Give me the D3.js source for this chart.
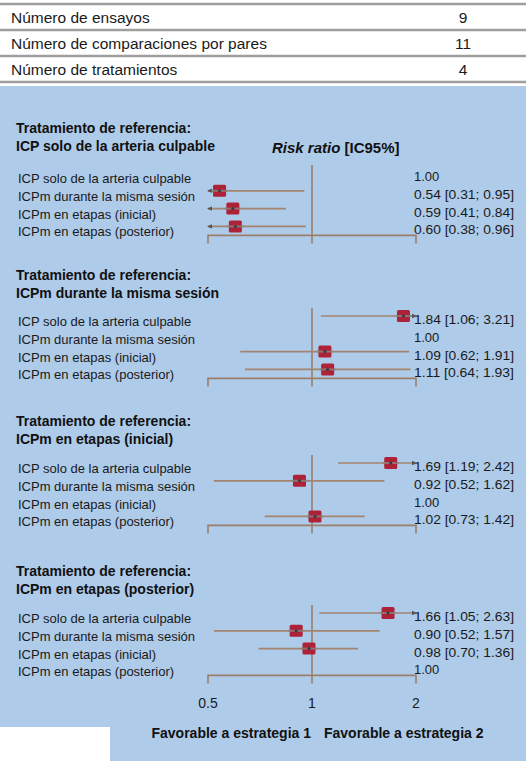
<!DOCTYPE html>
<html>
<head>
<meta charset="utf-8">
<script src="https://cdn.jsdelivr.net/npm/d3@7"></script>
<style>
  body { margin: 0; background: #fff; }
  svg { display: block; font-family: "Liberation Sans", Arial, Helvetica, sans-serif; }
</style>
</head>
<body>
<svg id="chart" width="526" height="761"></svg>
<script>
// summary table
var tableLabels = ["Número de ensayos", "Número de comparaciones por pares", "Número de tratamientos"];
var tableValues = ["9", "11", "4"];

// treatments (rows) and reference treatment per panel
var treatments = ["ICP solo de la arteria culpable", "ICPm durante la misma sesión", "ICPm en etapas (inicial)", "ICPm en etapas (posterior)"];
var references = treatments;

// risk ratio and 95% CI, one row per panel (null = reference itself)
var rr = [
    [1.00, 0.54, 0.59, 0.60],
    [1.84, 1.00, 1.09, 1.11],
    [1.69, 0.92, 1.00, 1.02],
    [1.66, 0.90, 0.98, 1.00]
];
var lower = [
    [null, 0.31, 0.41, 0.38],
    [1.06, null, 0.62, 0.64],
    [1.19, 0.52, null, 0.73],
    [1.05, 0.52, 0.70, null]
];
var upper = [
    [null, 0.95, 0.84, 0.96],
    [3.21, null, 1.91, 1.93],
    [2.42, 1.62, null, 1.42],
    [2.63, 1.57, 1.36, null]
];

var tickValues = [0.5, 1, 2];
var tickLabels = ["0.5", "1", "2"];
var favourLabels = ["Favorable a estrategia 1", "Favorable a estrategia 2"];

var W = 526, H = 761;
var svg = d3.select("#chart");

var x = d3.scaleLog().domain([0.5, 2]).range([208, 416]);
var fmt = d3.format(".2f");

var lineCol = "#9a7e6a";
var ciCol = "#a3846e";
var boxCol = "#ad2236";

// ---- table ----
var tableLines = [4, 30, 56, 82];
svg.selectAll(".tline")
    .data(tableLines)
    .enter().append("line")
    .attr("x1", 0).attr("x2", W)
    .attr("y1", d => d).attr("y2", d => d)
    .attr("stroke", "#9e9e9e")
    .attr("stroke-width", 2.5);

var trow = svg.selectAll(".trow")
    .data(tableLabels)
    .enter().append("g")
    .attr("transform", (d, i) => `translate(0,${23 + i * 26})`);
trow.append("text")
    .attr("x", 11)
    .attr("font-size", 15.5)
    .attr("fill", "#1a1a1a")
    .text(d => d);
trow.append("text")
    .attr("x", 463)
    .attr("text-anchor", "middle")
    .attr("font-size", 15.5)
    .attr("fill", "#1a1a1a")
    .text((d, i) => tableValues[i]);

// ---- blue panel ----
svg.append("rect")
    .attr("x", 0).attr("y", 86)
    .attr("width", W).attr("height", H - 86)
    .attr("fill", "#aecbe9");
svg.append("rect")
    .attr("x", 0).attr("y", 727)
    .attr("width", 110).attr("height", H - 727)
    .attr("fill", "#fff");

svg.append("text")
    .attr("x", 272).attr("y", 153)
    .attr("font-size", 15)
    .attr("font-weight", "bold")
    .attr("fill", "#111")
    .call(t => {
        t.append("tspan").attr("font-style", "italic").text("Risk ratio");
        t.append("tspan").text(" [IC95%]");
    });

var panelY = [173, 316, 463, 613];
var titleY = [133, 280, 426, 576];
var rowStep = 17.8;

references.forEach(function (ref, p) {
    var g = svg.append("g").attr("class", "panel");
    var y0 = panelY[p];
    var yRow = i => y0 + i * rowStep;
    var yBracket = y0 + 3 * rowStep + 9;

    g.selectAll(".title")
        .data(["Tratamiento de referencia:", ref + ""])
        .enter().append("text")
        .attr("x", 16)
        .attr("y", (d, i) => titleY[p] + i * 18)
        .attr("font-size", 14)
        .attr("font-weight", "bold")
        .attr("fill", "#111")
        .text(d => d);

    // null line and bracket
    g.append("line")
        .attr("x1", x(1)).attr("x2", x(1))
        .attr("y1", y0 - 8).attr("y2", yBracket + 8)
        .attr("stroke", lineCol).attr("stroke-width", 1.6);
    g.append("path")
        .attr("d", `M${x(0.5)},${yBracket + 8}V${yBracket}H${x(2)}V${yBracket + 8}`)
        .attr("fill", "none")
        .attr("stroke", lineCol).attr("stroke-width", 1.6);

    var rows = treatments.map((t, i) => ({ name: t, rr: rr[p][i], lo: lower[p][i], hi: upper[p][i], i: i }));

    g.selectAll(".lab")
        .data(rows)
        .enter().append("text")
        .attr("x", 18)
        .attr("y", d => yRow(d.i) + 10)
        .attr("font-size", 13)
        .attr("fill", "#1a1a1a")
        .text(d => d.name);

    g.selectAll(".val")
        .data(rows)
        .enter().append("text")
        .attr("x", 414)
        .attr("y", d => yRow(d.i) + 8)
        .attr("font-size", 13)
        .attr("fill", "#1a1a1a")
        .text(d => d.lo == null ? fmt(d.rr) : `${fmt(d.rr)} [${fmt(d.lo)}; ${fmt(d.hi)}]`)
        .each(function (d) {
            // the source face is a little narrower than ours
            if (d.lo != null) d3.select(this).attr("textLength", 100).attr("lengthAdjust", "spacingAndGlyphs");
        });

    var est = rows.filter(d => d.lo != null);
    var clamp = v => Math.max(0.5, Math.min(2, v));

    var m = g.selectAll(".mark")
        .data(est)
        .enter().append("g")
        .attr("transform", d => `translate(0,${yRow(d.i)})`);

    m.append("line")
        .attr("x1", d => x(clamp(d.lo))).attr("x2", d => x(clamp(d.hi)))
        .attr("stroke", ciCol).attr("stroke-width", 1.7);

    // arrowheads where the interval runs off the axis
    m.filter(d => d.lo < 0.5).append("path")
        .attr("d", `M${x(0.5) - 1},0l5,-2.2v4.4z`)
        .attr("fill", "#555");
    m.filter(d => d.hi > 2).append("path")
        .attr("d", `M${x(2) + 1},0l-5,-2.2v4.4z`)
        .attr("fill", "#555");

    m.append("rect")
        .attr("x", d => x(d.rr) - 6.5).attr("y", -6)
        .attr("width", 13).attr("height", 12)
        .attr("rx", 1.5)
        .attr("fill", boxCol);
    m.append("line")
        .attr("x1", d => x(d.rr) - 8).attr("x2", d => x(d.rr) + 8)
        .attr("stroke", "#8c8484").attr("stroke-width", 2)
        .attr("opacity", 0.8);
    m.append("circle")
        .attr("cx", d => x(d.rr)).attr("r", 1.5)
        .attr("fill", "#3a3a3a");
});

// ---- axis labels ----
svg.selectAll(".tick")
    .data(tickValues)
    .enter().append("text")
    .attr("x", d => x(d))
    .attr("y", 708)
    .attr("text-anchor", "middle")
    .attr("font-size", 14)
    .attr("fill", "#1a1a1a")
    .text((d, i) => tickLabels[i]);

svg.selectAll(".fav")
    .data(favourLabels)
    .enter().append("text")
    .attr("x", (d, i) => i === 0 ? 311 : 324)
    .attr("y", 738)
    .attr("text-anchor", (d, i) => i === 0 ? "end" : "start")
    .attr("font-size", 14)
    .attr("font-weight", "bold")
    .attr("fill", "#111")
    .text(d => d);
</script>
</body>
</html>
